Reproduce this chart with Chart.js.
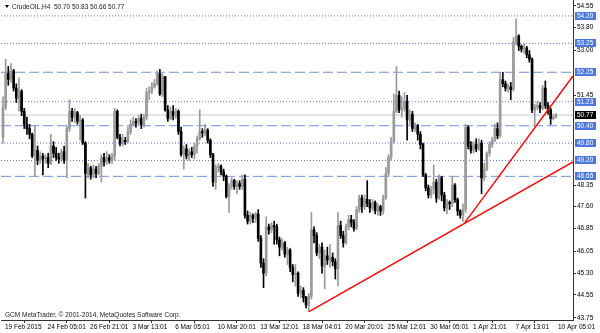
<!DOCTYPE html>
<html>
<head>
<meta charset="utf-8">
<script src="https://cdnjs.cloudflare.com/ajax/libs/Chart.js/4.4.1/chart.umd.min.js"></script>
<style>
  html, body { margin: 0; padding: 0; background: #fff; }
</style>
</head>
<body>
<canvas id="oilChart" width="600" height="333"></canvas>
<script>
// H4 bars, CrudeOIL 19 Feb - 10 Apr 2015
const opens = [
  50.0, 51.05, 52.2, 52.0, 52.3, 51.7, 51.35, 51.6, 50.9, 50.45,
  50.3, 50.1, 49.35, 49.55, 49.2, 49.35, 49.25, 49.3, 49.1, 49.7,
  49.45, 49.3, 49.25, 49.5, 49.2, 50.3, 50.9, 50.7, 50.85, 50.55,
  50.6, 49.8, 48.75, 48.95, 48.7, 48.9, 48.75, 49.0, 49.3, 49.15,
  49.3, 49.2, 49.35, 50.9, 50.0, 49.8, 49.9, 49.85, 50.2, 50.45,
  50.55, 50.5, 50.65, 50.45, 50.7, 51.55, 51.6, 51.75, 51.85, 52.2,
  51.5, 52.1, 50.95, 50.65, 50.9, 50.75, 50.9, 50.2, 49.4, 49.6,
  49.35, 49.5, 49.4, 49.7, 49.95, 50.2, 50.15, 50.25, 49.9, 49.4,
  48.45, 48.95, 49.0, 48.8, 48.65, 47.95, 48.3, 48.5, 48.3, 48.4,
  48.3, 48.55, 47.3, 47.1, 47.3, 47.2, 47.35, 46.5, 45.65, 45.3,
  46.9, 46.8, 46.95, 46.9, 46.45, 46.2, 46.35, 45.95, 46.1, 45.5,
  45.25, 45.3, 44.6, 44.7, 44.45, 44.2, 44.5, 46.8, 46.6, 46.0,
  46.2, 45.55, 45.9, 45.75, 45.85, 45.7, 45.45, 46.95, 46.6, 46.35,
  46.9, 47.15, 47.05, 46.85, 47.5, 47.9, 47.6, 47.85, 47.7, 47.55,
  47.75, 47.45, 47.6, 47.45, 47.9, 48.75, 49.3, 49.85, 50.9, 51.45,
  50.95, 51.0, 51.25, 50.6, 50.8, 50.3, 50.4, 50.1, 49.75, 48.7,
  48.25, 48.0, 48.2, 48.45, 47.9, 48.6, 48.0, 47.55, 47.75, 47.7,
  48.35, 47.85, 47.45, 47.3, 47.5, 50.35, 49.7, 49.55, 49.75, 49.6,
  49.8, 48.6, 48.9, 49.45, 49.75, 49.9, 50.3, 50.05, 52.0, 51.85,
  51.7, 51.75, 51.65, 53.3, 53.5, 53.15, 53.05, 53.1, 52.85, 52.7,
  50.95, 51.05, 51.1, 51.0, 51.7, 51.1, 50.95, 50.65, 50.70
];
const highs = [
  51.4, 52.7, 52.45, 52.55, 52.35, 51.85, 52.05, 51.65, 51.0, 50.7,
  50.45, 50.15, 50.4, 49.7, 49.5, 49.45, 49.4, 49.45, 50.1, 49.85,
  49.65, 49.45, 49.6, 49.7, 50.4, 51.3, 51.0, 51.0, 50.9, 50.75,
  50.65, 49.85, 49.1, 49.0, 49.05, 49.0, 49.1, 49.4, 49.45, 49.5,
  49.4, 49.45, 51.0, 50.95, 50.1, 50.1, 50.0, 50.35, 50.6, 50.7,
  50.65, 50.75, 50.8, 50.8, 51.7, 51.75, 51.9, 52.0, 52.3, 52.35,
  52.2, 52.1, 51.1, 51.05, 51.1, 51.0, 50.95, 50.35, 49.7, 49.75,
  49.6, 49.65, 49.8, 50.05, 50.95, 50.3, 50.45, 50.3, 49.95, 49.45,
  49.05, 49.1, 49.05, 48.9, 48.7, 48.4, 48.6, 48.55, 48.5, 48.5,
  48.7, 48.7, 47.45, 47.4, 47.35, 47.4, 47.5, 46.6, 45.8, 47.25,
  47.0, 47.05, 47.1, 47.0, 46.55, 46.5, 46.4, 46.2, 46.15, 45.6,
  45.6, 45.35, 44.85, 44.8, 44.5, 44.6, 47.4, 46.9, 46.7, 46.3,
  46.35, 46.1, 46.2, 46.3, 46.0, 45.8, 47.4, 47.1, 46.75, 47.0,
  47.3, 47.3, 47.15, 47.6, 48.0, 48.0, 48.0, 48.5, 47.85, 47.85,
  47.8, 47.7, 47.65, 48.0, 48.95, 49.4, 50.0, 51.5, 52.45, 51.6,
  51.4, 51.55, 51.45, 50.95, 50.9, 50.5, 50.45, 50.2, 49.8, 48.75,
  48.35, 48.3, 49.05, 48.55, 48.7, 48.65, 48.1, 47.85, 47.8, 48.65,
  48.4, 47.9, 47.5, 47.7, 50.45, 50.4, 49.85, 49.85, 49.95, 49.95,
  49.9, 49.1, 49.5, 49.85, 50.0, 50.45, 50.5, 52.25, 52.25, 51.95,
  51.85, 51.9, 53.45, 54.1, 53.55, 53.2, 53.25, 53.15, 53.0, 52.75,
  51.15, 51.25, 51.2, 51.8, 51.95, 51.2, 51.0, 50.8, 50.83
];
const lows = [
  49.8, 50.95, 51.8, 51.9, 51.6, 51.2, 50.9, 50.75, 50.3, 50.1,
  49.95, 49.3, 48.65, 49.05, 49.1, 48.7, 49.1, 48.95, 49.05, 49.3,
  49.2, 49.1, 49.15, 49.1, 48.6, 50.2, 50.55, 50.5, 50.45, 49.9,
  49.75, 47.9, 48.6, 48.55, 48.6, 48.6, 48.7, 48.45, 49.0, 49.05,
  49.1, 49.1, 49.2, 49.95, 49.7, 49.7, 49.75, 49.8, 50.1, 50.4,
  50.35, 50.4, 50.3, 50.35, 50.6, 51.3, 51.5, 51.7, 51.8, 51.45,
  51.4, 50.9, 50.55, 50.6, 50.6, 50.65, 50.1, 49.35, 48.9, 49.25,
  49.2, 49.3, 49.25, 49.45, 49.9, 50.0, 50.05, 49.8, 49.3, 48.3,
  48.2, 48.8, 48.7, 48.5, 47.9, 47.4, 48.2, 48.2, 48.05, 48.2,
  48.2, 47.2, 47.0, 47.0, 47.05, 47.05, 46.4, 45.5, 44.8, 45.2,
  46.65, 46.7, 46.3, 46.3, 45.9, 46.1, 45.85, 45.6, 45.35, 45.0,
  44.85, 44.5, 44.45, 44.3, 44.1, 43.97, 44.4, 46.35, 45.9, 45.8,
  45.3, 44.75, 45.6, 45.5, 45.55, 45.1, 44.85, 46.5, 46.2, 46.3,
  46.8, 46.9, 46.75, 46.8, 47.4, 47.4, 47.5, 47.6, 47.4, 47.45,
  47.35, 47.3, 47.3, 47.35, 47.85, 48.65, 49.2, 49.8, 50.85, 50.85,
  50.7, 50.9, 49.9, 50.45, 50.2, 50.2, 49.9, 49.6, 48.65, 48.15,
  47.9, 47.9, 48.05, 47.75, 47.85, 47.8, 47.45, 47.35, 47.5, 47.6,
  47.75, 47.3, 47.2, 47.08, 47.4, 49.6, 49.45, 49.45, 49.5, 49.55,
  48.05, 48.5, 48.85, 49.35, 49.65, 49.85, 49.95, 50.0, 51.75, 51.6,
  51.55, 51.3, 51.6, 53.2, 53.0, 52.95, 52.9, 52.75, 52.6, 50.85,
  50.4, 50.95, 50.85, 50.95, 51.0, 50.8, 50.45, 50.6, 50.66
];
const closes = [
  51.05, 52.2, 52.0, 52.3, 51.7, 51.35, 51.6, 50.9, 50.45, 50.3,
  50.1, 49.35, 49.55, 49.2, 49.35, 49.25, 49.3, 49.1, 49.7, 49.45,
  49.3, 49.25, 49.5, 49.2, 50.3, 50.9, 50.7, 50.85, 50.55, 50.6,
  49.8, 48.75, 48.95, 48.7, 48.9, 48.75, 49.0, 49.3, 49.15, 49.3,
  49.2, 49.35, 50.9, 50.0, 49.8, 49.9, 49.85, 50.2, 50.45, 50.55,
  50.5, 50.65, 50.45, 50.7, 51.55, 51.6, 51.75, 51.85, 52.2, 51.5,
  52.1, 50.95, 50.65, 50.9, 50.75, 50.9, 50.2, 49.4, 49.6, 49.35,
  49.5, 49.4, 49.7, 49.95, 50.2, 50.15, 50.25, 49.9, 49.4, 48.45,
  48.95, 49.0, 48.8, 48.65, 47.95, 48.3, 48.5, 48.3, 48.4, 48.3,
  48.55, 47.3, 47.1, 47.3, 47.2, 47.35, 46.5, 45.65, 45.3, 46.9,
  46.8, 46.95, 46.9, 46.45, 46.2, 46.35, 45.95, 46.1, 45.5, 45.25,
  45.3, 44.6, 44.7, 44.45, 44.2, 44.5, 46.8, 46.6, 46.0, 46.2,
  45.55, 45.9, 45.75, 45.85, 45.7, 45.45, 46.95, 46.6, 46.35, 46.9,
  47.15, 47.05, 46.85, 47.5, 47.9, 47.6, 47.85, 47.7, 47.55, 47.75,
  47.45, 47.6, 47.45, 47.9, 48.75, 49.3, 49.85, 50.9, 51.45, 50.95,
  51.0, 51.25, 50.6, 50.8, 50.3, 50.4, 50.1, 49.75, 48.7, 48.25,
  48.0, 48.2, 48.45, 47.9, 48.6, 48.0, 47.55, 47.75, 47.7, 48.35,
  47.85, 47.45, 47.3, 47.5, 50.35, 49.7, 49.55, 49.75, 49.6, 49.8,
  48.6, 48.9, 49.45, 49.75, 49.9, 50.3, 50.05, 52.0, 51.85, 51.7,
  51.75, 51.65, 53.3, 53.5, 53.15, 53.05, 53.1, 52.85, 52.7, 50.95,
  51.05, 51.1, 51.0, 51.7, 51.1, 50.95, 50.65, 50.7, 50.77
];

// time axis: a label every 16 bars
const labelBars = [0, 16, 32, 48, 64, 80, 96, 112, 128, 144, 160, 176, 192, 208];
const dateLabels = ["19 Feb 2015", "24 Feb 05:01", "26 Feb 21:01", "3 Mar 13:01", "6 Mar 05:01",
  "10 Mar 20:01", "13 Mar 12:01", "18 Mar 04:01", "20 Mar 20:01", "25 Mar 12:01",
  "30 Mar 05:01", "1 Apr 21:01", "7 Apr 13:01", "10 Apr 05:01"];

const priceTicks = [54.55, 53.80, 53.00, 51.45, 48.35, 47.60, 46.85, 46.05, 45.30, 44.55, 43.75];

// horizontal levels drawn on the chart
const dottedLevels = [54.20, 53.25, 51.23, 49.80, 49.20];
const dashedLevels = [52.25, 50.40, 48.65];
const bidPrice = 50.77;

// trend lines (bar index, price)
const supportLine = [{ x: 115.1, y: 43.97 }, { x: 214.4, y: 49.15 }];
const steepLine = [{ x: 173.7, y: 47.05 }, { x: 214.4, y: 52.12 }];

const xFirst = -0.75;
const xLast = 214.4;

const FONT = { family: "'Liberation Sans', Arial, sans-serif", size: 6.5 };

const bullColor = "#9a9a9a";
const bearColor = "#000000";
const barColors = closes.map((c, i) => (c >= opens[i] ? bullColor : bearColor));

const wickData = highs.map((h, i) => ({ x: i, y: [lows[i], h] }));
const bodyData = closes.map((c, i) => ({ x: i, y: [opens[i], c] }));

function levelDataset(price, dash, color) {
  return {
    type: "line",
    data: [{ x: xFirst, y: price }, { x: xLast, y: price }],
    borderColor: color,
    borderWidth: 1,
    borderDash: dash,
    pointRadius: 0,
  };
}

const levelSets = [];
dottedLevels.forEach((p) => levelSets.push(levelDataset(p, [1, 2], "#4f74e8")));
dashedLevels.forEach((p) => levelSets.push(levelDataset(p, [10, 4], "#7290e4")));
levelSets.push(levelDataset(bidPrice, [], "#c8c8c8"));

// price boxes on the right axis + header / footer text
const overlayPlugin = {
  id: "mtOverlay",
  afterDraw(chart) {
    const ctx = chart.ctx;
    const yScale = chart.scales.y;
    const area = chart.chartArea;
    ctx.save();
    ctx.font = FONT.size + "px " + FONT.family;
    ctx.textBaseline = "middle";

    const box = (price, fill) => {
      const y = Math.round(yScale.getPixelForValue(price));
      ctx.fillStyle = fill;
      ctx.fillRect(area.right + 2, y - 4, 21, 8);
      ctx.fillStyle = "#ffffff";
      ctx.textAlign = "left";
      ctx.fillText(price.toFixed(2), area.right + 4, y + 0.5);
    };
    dottedLevels.concat(dashedLevels).forEach((p) => box(p, "#4d78e0"));
    box(bidPrice, "#000000");

    // header
    ctx.fillStyle = "#000";
    ctx.beginPath();
    ctx.moveTo(5, 5);
    ctx.lineTo(9, 5);
    ctx.lineTo(7, 8);
    ctx.closePath();
    ctx.fill();
    ctx.fillStyle = "#202020";
    ctx.textAlign = "left";
    ctx.fillText("CrudeOIL,H4  50.70 50.83 50.66 50.77", 12, 7);

    // footer
    ctx.fillText("GCM MetaTrader, \u00a9 2001-2014, MetaQuotes Software Corp.", 5, 315.5);
    ctx.restore();
  },
};

const ctx = document.getElementById("oilChart").getContext("2d");

new Chart(ctx, {
  type: "bar",
  data: {
    datasets: [
      {
        type: "line",
        data: supportLine,
        borderColor: "#ff0000",
        borderWidth: 1.4,
        pointRadius: 0,
      },
      {
        type: "line",
        data: steepLine,
        borderColor: "#ff0000",
        borderWidth: 1.4,
        pointRadius: 0,
      },
      {
        data: bodyData,
        backgroundColor: barColors,
        barThickness: 2,
        minBarLength: 1,
        grouped: false,
      },
      {
        data: wickData,
        backgroundColor: barColors,
        barThickness: 1,
        grouped: false,
      },
    ].concat(levelSets),
  },
  options: {
    responsive: false,
    animation: false,
    layout: { padding: { left: 1, top: 0, right: 0, bottom: 0 } },
    plugins: {
      legend: { display: false },
      tooltip: { enabled: false },
    },
    scales: {
      x: {
        type: "linear",
        min: xFirst,
        max: xLast,
        offset: false,
        grid: { display: true, drawOnChartArea: false, drawTicks: true, tickLength: 3, color: "#333" },
        border: { display: true, color: "#333" },
        ticks: {
          autoSkip: false,
          maxRotation: 0,
          align: "start",
          labelOffset: 2,
          padding: 0,
          color: "#000",
          font: FONT,
          callback: (v) => {
            const k = labelBars.indexOf(v);
            return k >= 0 ? dateLabels[k] : "";
          },
        },
        afterBuildTicks: (axis) => {
          axis.ticks = labelBars.map((v) => ({ value: v }));
        },
        afterFit: (scale) => {
          scale.height = 13;
          scale.paddingLeft = 0;
          scale.paddingRight = 0;
        },
      },
      y: {
        type: "linear",
        position: "right",
        min: 43.68,
        max: 54.75,
        grid: { display: true, drawOnChartArea: false, drawTicks: true, tickLength: 3, color: "#333" },
        border: { display: true, color: "#333" },
        ticks: {
          autoSkip: false,
          padding: 1,
          color: "#000",
          font: FONT,
          callback: (v) => Number(v).toFixed(2),
        },
        afterBuildTicks: (axis) => {
          axis.ticks = priceTicks.map((v) => ({ value: v }));
        },
        afterFit: (scale) => {
          scale.width = 27;
          scale.paddingTop = 0;
          scale.paddingBottom = 0;
        },
      },
    },
  },
  plugins: [overlayPlugin],
});
</script>
</body>
</html>
